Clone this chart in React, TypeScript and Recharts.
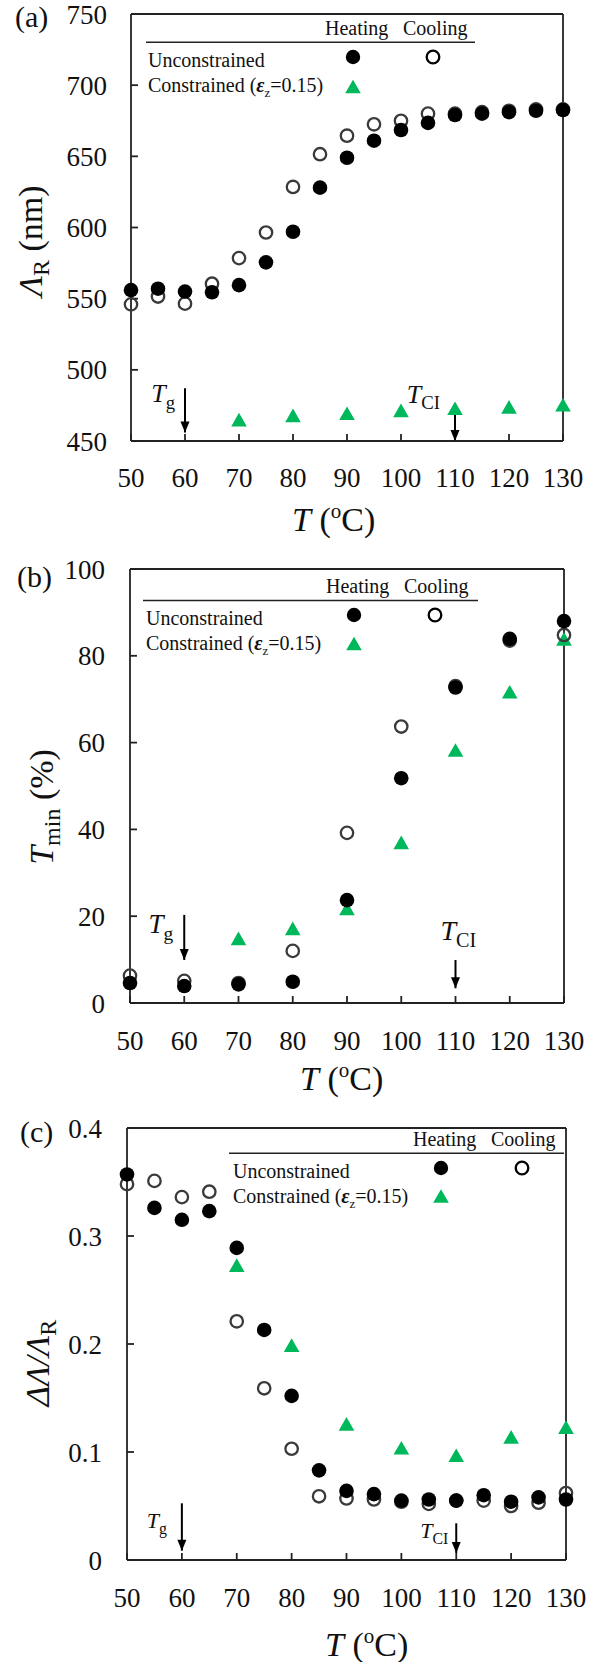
import React from 'react';
import { ScatterChart, Scatter, XAxis, YAxis, ReferenceLine, ReferenceDot } from 'recharts';

const FONT = '"Liberation Serif", "Times New Roman", serif';
const GREEN = '#00b85c';
const INK = '#111';

// shared x axis
const xTicks = [50, 60, 70, 80, 90, 100, 110, 120, 130];
const constrTemps = [70, 80, 90, 100, 110, 120, 130];

// (a) reflection wavelength, nm
const tempsA = [50, 55, 60, 65, 70, 75, 80, 85, 90, 95, 100, 105, 110, 115, 120, 125, 130];
const heatingA = [556, 557, 555, 554.5, 559.5, 575.5, 597, 628, 649, 661, 668.5, 673.5, 679, 680, 681, 682, 682.5];
const coolingA = [546, 551.5, 546.5, 560.5, 578.5, 596.5, 628.5, 651.5, 664.5, 672.5, 675, 680, 680, 681, 682, 683, 683];
const constrA = [465, 468, 469.5, 471.5, 473, 474, 475.5];
const yTicksA = [450, 500, 550, 600, 650, 700, 750];

// (b) minimum transmittance, %
const tempsB = [50, 60, 70, 80, 90, 100, 110, 120, 130];
const heatingB = [4.6, 3.9, 4.3, 4.9, 23.7, 51.8, 72.7, 83.9, 88.0];
const coolingB = [6.3, 5.1, 4.6, 12.0, 39.2, 63.7, 73.0, 83.5, 84.8];
const constrB = [14.9, 17.2, 21.8, 37.0, 58.3, 71.7, 83.9];
const yTicksB = [0, 20, 40, 60, 80, 100];

// (c) relative bandwidth
const tempsC = [50, 55, 60, 65, 70, 75, 80, 85, 90, 95, 100, 105, 110, 115, 120, 125, 130];
const heatingC = [0.357, 0.326, 0.315, 0.323, 0.289, 0.213, 0.152, 0.083, 0.064, 0.061, 0.055, 0.056, 0.055, 0.06, 0.054, 0.058, 0.056];
const coolingC = [0.348, 0.351, 0.336, 0.341, 0.221, 0.159, 0.103, 0.059, 0.057, 0.056, 0.054, 0.052, 0.055, 0.055, 0.05, 0.053, 0.062];
const constrC = [0.273, 0.199, 0.126, 0.104, 0.097, 0.114, 0.123];
const yTicksC = [0, 0.1, 0.2, 0.3, 0.4];

const zip = (xs: number[], ys: number[]) => xs.map((t, i) => ({ t, v: ys[i] }));

const Filled = (p: any) => <circle cx={p.cx} cy={p.cy} r={7.3} fill="#000" />;
const Open = (p: any) => <circle cx={p.cx} cy={p.cy} r={6.2} fill="none" stroke="#3a3a3a" strokeWidth={2.3} />;
const Tri = (p: any) => (
  <polygon
    points={`${p.cx},${p.cy - 6.8} ${p.cx - 7.8},${p.cy + 6.8} ${p.cx + 7.8},${p.cy + 6.8}`}
    fill={GREEN}
  />
);

const SubLabel = ({ x, y, sub, size, anchor }: any) => (
  <text x={x} y={y} textAnchor={anchor} fontFamily={FONT} fontSize={size} fill={INK}>
    <tspan fontStyle="italic">T</tspan>
    <tspan fontSize={size * 0.72} dy={size * 0.25}>{sub}</tspan>
  </text>
);

const panels = [
  {
    top: 0, height: 545, plotTop: 14, plotBottom: 441, plotLeft: 131, plotRight: 563,
    xTickMargin: 34, yTickMargin: 31, domain: [450, 750], yTicks: yTicksA, fmt: (v: number) => String(v),
    temps: tempsA, heating: heatingA, cooling: coolingA, constr: constrA,
    arrows: [
      { x: 60, from: 487, to: 456, sub: 'g', dx: -10, dy: 14, size: 26, anchor: 'end' },
      { x: 110, from: 470.5, to: 450, sub: 'CI', dx: -15, dy: -9, size: 26, anchor: 'end' },
    ],
  },
  {
    top: 545, height: 560, plotTop: 569, plotBottom: 1003, plotLeft: 130, plotRight: 564,
    xTickMargin: 35, yTickMargin: 32, domain: [0, 100], yTicks: yTicksB, fmt: (v: number) => String(v),
    temps: tempsB, heating: heatingB, cooling: coolingB, constr: constrB,
    arrows: [
      { x: 60, from: 20.3, to: 9.9, sub: 'g', dx: -11, dy: 18, size: 27, anchor: 'end' },
      { x: 110, from: 9.9, to: 3.4, sub: 'CI', dx: -15, dy: -20, size: 28, anchor: 'start' },
    ],
  },
  {
    top: 1105, height: 557, plotTop: 1128, plotBottom: 1560, plotLeft: 127, plotRight: 566,
    xTickMargin: 35, yTickMargin: 32, domain: [0, 0.4], yTicks: yTicksC,
    fmt: (v: number) => (v === 0 ? '0' : v.toFixed(1)),
    temps: tempsC, heating: heatingC, cooling: coolingC, constr: constrC,
    arrows: [
      { x: 60, from: 0.0525, to: 0.0086, sub: 'g', dx: -15, dy: 25, size: 22, anchor: 'end' },
      { x: 110, from: 0.034, to: 0.0065, sub: 'CI', dx: -8, dy: 15, size: 22, anchor: 'end' },
    ],
  },
];

const tickStyle = { fill: INK, fontSize: 27, fontFamily: FONT };
const axisStyle = { stroke: '#222', strokeWidth: 1.8 };

function Panel({ cfg }: { cfg: any }) {
  const xAxisH = 60;
  return (
    <div style={{ position: 'absolute', left: 0, top: cfg.top }}>
      <ScatterChart
        width={602}
        height={cfg.height}
        margin={{
          top: cfg.plotTop - cfg.top,
          right: 602 - cfg.plotRight,
          left: 0,
          bottom: cfg.top + cfg.height - cfg.plotBottom - xAxisH,
        }}
      >
        <XAxis
          type="number" dataKey="t" domain={[50, 130]} ticks={xTicks} interval={0} height={xAxisH}
          tickSize={-7} tickMargin={cfg.xTickMargin} axisLine={axisStyle} tickLine={axisStyle} tick={tickStyle}
        />
        <YAxis
          type="number" dataKey="v" domain={cfg.domain} ticks={cfg.yTicks} interval={0} width={cfg.plotLeft}
          tickSize={-7} tickMargin={cfg.yTickMargin} tickFormatter={cfg.fmt}
          axisLine={axisStyle} tickLine={axisStyle} tick={tickStyle}
        />
        <ReferenceLine y={cfg.domain[1]} stroke="#222" strokeWidth={1.8} ifOverflow="visible" />
        <ReferenceLine x={130} stroke="#222" strokeWidth={1.8} ifOverflow="visible" />
        <Scatter data={zip(constrTemps, cfg.constr)} shape={Tri} isAnimationActive={false} />
        <Scatter data={zip(cfg.temps, cfg.cooling)} shape={Open} isAnimationActive={false} />
        <Scatter data={zip(cfg.temps, cfg.heating)} shape={Filled} isAnimationActive={false} />
        {cfg.arrows.map((a: any, i: number) => (
          <ReferenceLine
            key={'l' + i}
            segment={[{ x: a.x, y: a.from }, { x: a.x, y: a.to }]}
            stroke="#000" strokeWidth={2} ifOverflow="visible"
          />
        ))}
        {cfg.arrows.map((a: any, i: number) => (
          <ReferenceDot
            key={'h' + i} x={a.x} y={a.to} ifOverflow="visible"
            shape={(p: any) => (
              <polygon points={`${p.cx - 4.5},${p.cy - 11} ${p.cx + 4.5},${p.cy - 11} ${p.cx},${p.cy}`} fill="#000" />
            )}
          />
        ))}
        {cfg.arrows.map((a: any, i: number) => (
          <ReferenceDot
            key={'t' + i} x={a.x} y={a.from} ifOverflow="visible"
            shape={(p: any) => (
              <SubLabel x={p.cx + a.dx} y={p.cy + a.dy} sub={a.sub} size={a.size} anchor={a.anchor} />
            )}
          />
        ))}
      </ScatterChart>
    </div>
  );
}

const legends = [
  { heatX: 325, coolX: 403, headY: 35, lineY: 42.3, lineX1: 146, lineX2: 475, textX: 148, row1: 67, row2: 92, mk1: 353, mk2: 433, mkY1: 57, mkY2: 86.5 },
  { heatX: 326, coolX: 404, headY: 593, lineY: 600.5, lineX1: 143, lineX2: 478, textX: 146, row1: 625, row2: 650, mk1: 354, mk2: 435, mkY1: 615, mkY2: 643.5 },
  { heatX: 413, coolX: 491, headY: 1146, lineY: 1153.3, lineX1: 229, lineX2: 564, textX: 233, row1: 1178, row2: 1203, mk1: 441, mk2: 522, mkY1: 1168, mkY2: 1196 },
];

function LegendBlock({ l }: { l: any }) {
  const fs = 20;
  return (
    <g fontFamily={FONT} fontSize={fs} fill={INK}>
      <text x={l.heatX} y={l.headY}>Heating</text>
      <text x={l.coolX} y={l.headY}>Cooling</text>
      <line x1={l.lineX1} x2={l.lineX2} y1={l.lineY} y2={l.lineY} stroke="#222" strokeWidth={1.6} />
      <text x={l.textX} y={l.row1}>Unconstrained</text>
      <text x={l.textX} y={l.row2}>
        <tspan>Constrained (</tspan>
        <tspan fontWeight="bold" fontStyle="italic">ε</tspan>
        <tspan fontSize={13} dy={5}>z</tspan>
        <tspan dy={-5}>=0.15)</tspan>
      </text>
      <circle cx={l.mk1} cy={l.mkY1} r={7.2} fill="#000" />
      <circle cx={l.mk2} cy={l.mkY1} r={6.3} fill="none" stroke="#000" strokeWidth={2.3} />
      <polygon points={`${l.mk1},${l.mkY2 - 6.8} ${l.mk1 - 7.8},${l.mkY2 + 6.8} ${l.mk1 + 7.8},${l.mkY2 + 6.8}`} fill={GREEN} />
    </g>
  );
}

const XTitle = ({ x, y }: any) => (
  <text x={x} y={y} fontFamily={FONT} fontSize={34} fill={INK}>
    <tspan fontStyle="italic">T</tspan>
    <tspan> (</tspan>
    <tspan fontSize={21} dy={-13}>o</tspan>
    <tspan dy={13}>C)</tspan>
  </text>
);

const YTitle = ({ x, y, children }: any) => (
  <text transform={`translate(${x},${y}) rotate(-90)`} textAnchor="middle" fontFamily={FONT} fontSize={34} fill={INK}>
    {children}
  </text>
);

export default function App() {
  return (
    <div style={{ position: 'absolute', left: 0, top: 0, width: 602, height: 1662, background: '#fff', overflow: 'hidden' }}>
      {panels.map((cfg, i) => (
        <Panel key={i} cfg={cfg} />
      ))}
      <svg width={602} height={1662} style={{ position: 'absolute', left: 0, top: 0, pointerEvents: 'none' }}>
        <g fontFamily={FONT} fontSize={30} fill={INK}>
          <text x={15} y={27}>(a)</text>
          <text x={17} y={587}>(b)</text>
          <text x={20} y={1142}>(c)</text>
        </g>
        {legends.map((l, i) => (
          <LegendBlock key={i} l={l} />
        ))}
        <XTitle x={292} y={531} />
        <XTitle x={300} y={1090} />
        <XTitle x={325} y={1656} />
        <YTitle x={42} y={241}>
          <tspan fontStyle="italic">Λ</tspan>
          <tspan fontSize={24} dy={7}>R</tspan>
          <tspan dy={-7}> (nm)</tspan>
        </YTitle>
        <YTitle x={53} y={807}>
          <tspan fontStyle="italic">T</tspan>
          <tspan fontSize={24} dy={7}>min</tspan>
          <tspan dy={-7}> (%)</tspan>
        </YTitle>
        <YTitle x={49} y={1363}>
          <tspan fontStyle="italic">ΔΛ/Λ</tspan>
          <tspan fontSize={24} dy={7}>R</tspan>
        </YTitle>
      </svg>
    </div>
  );
}
